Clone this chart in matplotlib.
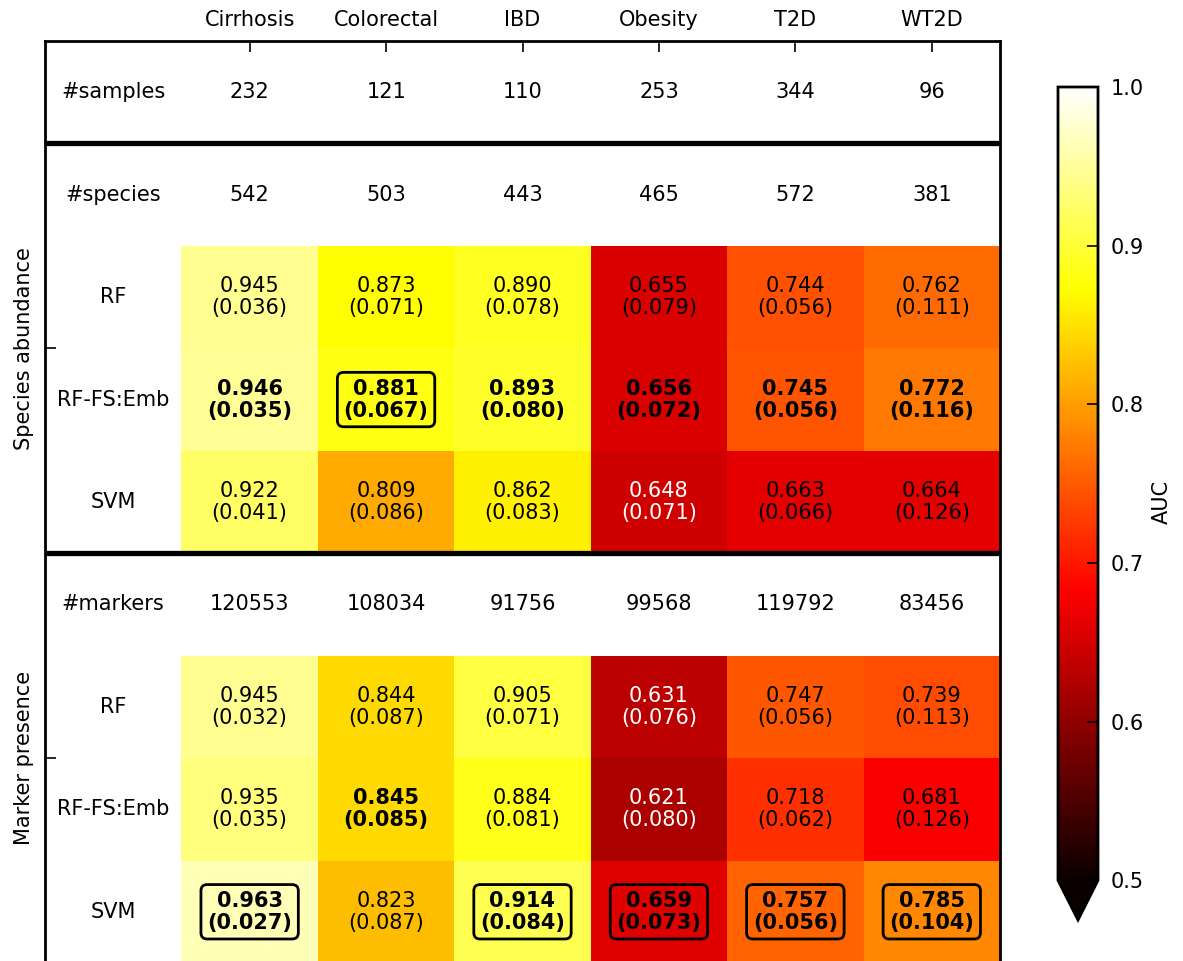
import numpy as np
import matplotlib
matplotlib.use("Agg")
import matplotlib.pyplot as plt
from matplotlib.colors import Normalize

diseases = ['Cirrhosis', 'Colorectal', 'IBD', 'Obesity', 'T2D', 'WT2D']
methods = ['RF', 'RF-FS:Emb', 'SVM']
blocks = ['Species abundance', 'Marker presence']

n_samples = [232, 121, 110, 253, 344, 96]
n_species = [542, 503, 443, 465, 572, 381]
n_markers = [120553, 108034, 91756, 99568, 119792, 83456]

species_rf = [0.945, 0.873, 0.890, 0.655, 0.744, 0.762]
species_rffs = [0.946, 0.881, 0.893, 0.656, 0.745, 0.772]
species_svm = [0.922, 0.809, 0.862, 0.648, 0.663, 0.664]
species_rf_sd = [0.036, 0.071, 0.078, 0.079, 0.056, 0.111]
species_rffs_sd = [0.035, 0.067, 0.080, 0.072, 0.056, 0.116]
species_svm_sd = [0.041, 0.086, 0.083, 0.071, 0.066, 0.126]

marker_rf = [0.945, 0.844, 0.905, 0.631, 0.747, 0.739]
marker_rffs = [0.935, 0.845, 0.884, 0.621, 0.718, 0.681]
marker_svm = [0.963, 0.823, 0.914, 0.659, 0.757, 0.785]
marker_rf_sd = [0.032, 0.087, 0.071, 0.076, 0.056, 0.113]
marker_rffs_sd = [0.035, 0.085, 0.081, 0.080, 0.062, 0.126]
marker_svm_sd = [0.027, 0.087, 0.084, 0.073, 0.056, 0.104]

species_auc = np.array([species_rf, species_rffs, species_svm])
species_sd = np.array([species_rf_sd, species_rffs_sd, species_svm_sd])
marker_auc = np.array([marker_rf, marker_rffs, marker_svm])
marker_sd = np.array([marker_rf_sd, marker_rffs_sd, marker_svm_sd])

FS = 15
plt.rcParams['font.family'] = ['DejaVu Sans']

fig = plt.figure(figsize=(11.83, 9.61), dpi=100)
W, H = 1183, 961
ax = fig.add_axes([45 / W, 1 - 963 / H, (1000 - 45) / W, (963 - 41) / H])

nrows, ncols = 9, 7
grid = np.full((nrows, ncols), np.nan)
grid[2:5, 1:] = species_auc
grid[6:9, 1:] = marker_auc
norm = Normalize(vmin=0.5, vmax=1.0)
cmap = plt.get_cmap('hot')
mesh = ax.pcolormesh(np.arange(ncols + 1), np.arange(nrows + 1),
                     np.ma.masked_invalid(grid), cmap=cmap, norm=norm,
                     edgecolors='none', antialiased=False)
ax.set_xlim(0, ncols)
ax.set_ylim(nrows, 0)

# count rows
count_rows = [(0, '#samples', n_samples), (1, '#species', n_species), (5, '#markers', n_markers)]
for r, lab, vals in count_rows:
    ax.text(0.5, r + 0.5, lab, ha='center', va='center', fontsize=FS)
    for j, v in enumerate(vals):
        ax.text(j + 1.5, r + 0.5, str(v), ha='center', va='center', fontsize=FS)

all_auc = np.vstack([species_auc, marker_auc])
col_best = all_auc.max(axis=0)
for start, auc, sd in [(2, species_auc, species_sd), (6, marker_auc, marker_sd)]:
    block_best = auc.max(axis=0)
    for i, m in enumerate(methods):
        r = start + i
        ax.text(0.5, r + 0.5, m, ha='center', va='center', fontsize=FS)
        for j in range(len(diseases)):
            v = auc[i, j]
            s = sd[i, j]
            bold = v == block_best[j]
            boxed = v == col_best[j]
            color = 'white' if v < 0.65 else 'black'
            kw = {}
            if boxed:
                kw['bbox'] = dict(boxstyle='round,pad=0.3', facecolor='none',
                                  edgecolor='black', linewidth=2)
            ax.text(j + 1.5, r + 0.5, f"{v:.3f}\n({s:.3f})", ha='center', va='center',
                    fontsize=FS, fontweight='bold' if bold else 'normal',
                    color=color, linespacing=1.12, **kw)

ax.axhline(1, color='black', lw=3.8)
ax.axhline(5, color='black', lw=3.8)

for sp in ax.spines.values():
    sp.set_linewidth(2)

ax.xaxis.tick_top()
ax.set_xticks(np.arange(1, ncols) + 0.5)
ax.set_xticklabels(diseases, fontsize=FS)
ax.set_yticks([3, 7])
ax.set_yticklabels(blocks, fontsize=FS, rotation=90, va='center')
ax.tick_params(axis='x', which='both', direction='in', length=8, width=1.2, pad=8,
               top=True, bottom=False)
ax.tick_params(axis='y', which='both', direction='in', length=8, width=1.2, pad=8,
               left=True, right=False)

cax = fig.add_axes([1058 / W, 1 - 920 / H, 40 / W, (920 - 87) / H])
cb = fig.colorbar(mesh, cax=cax, extend='min', ticks=[0.5, 0.6, 0.7, 0.8, 0.9, 1.0])
cb.outline.set_linewidth(2)
cb.ax.tick_params(direction='in', length=8, width=1.2, pad=9, labelsize=FS)
cb.ax.set_yticklabels(['0.5', '0.6', '0.7', '0.8', '0.9', '1.0'])
fig.text(1162 / W, 1 - 502 / H, 'AUC', rotation=90, ha='center', va='center', fontsize=FS)

fig.savefig('out.png', dpi=100)
